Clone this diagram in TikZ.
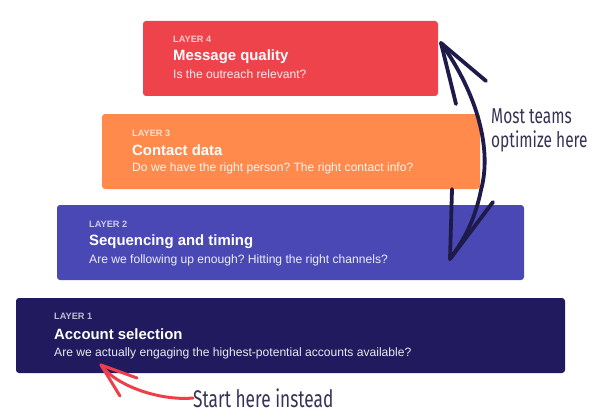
\documentclass[tikz,border=0pt]{standalone}
\usepackage{fontspec}
\setmainfont{Liberation Sans}
\newfontfamily\handfont{Fira Sans}[FakeStretch=0.72]
\usetikzlibrary{positioning}
\frenchspacing

\definecolor{layerfour}{HTML}{EF434B}
\definecolor{layerthree}{HTML}{FF8A4C}
\definecolor{layertwo}{HTML}{4A48B5}
\definecolor{layerone}{HTML}{221A5E}
\definecolor{inkblue}{HTML}{1E1A4A}
\definecolor{inkred}{HTML}{EE3F48}

\tikzset{
  layer/.style={rectangle, rounded corners=3pt, minimum height=75pt, inner sep=0pt},
  tag/.style={anchor=west, inner sep=0pt, text=white, text opacity=0.72, font=\fontsize{9.2}{10}\selectfont\bfseries},
  title/.style={anchor=west, inner sep=0pt, text=white, font=\fontsize{14.9}{16}\selectfont\bfseries},
  question/.style={anchor=west, inner sep=0pt, text=white, text opacity=0.9, font=\fontsize{12.1}{13}\selectfont},
  scribble/.style={line width=3.8pt, line cap=round, line join=round},
  hand/.style={inner sep=0pt, text=inkblue!75!gray, font=\handfont\fontsize{21.5}{24}\selectfont}
}

\begin{document}
\begin{tikzpicture}[x=1pt, y=-1pt]

  \useasboundingbox (0,0) rectangle (596,417);

  % layer 4
  \node[layer, fill=layerfour, minimum width=295pt] (l4) at (290.5,58.5) {};
  \node[tag] (l4tag) at (173,39.5) {LAYER 4};
  \node[title] (l4title) at (173,57) {Message quality};
  \node[question] (l4q) at (173,74.5) {Is the outreach relevant?};

  % layer 3
  \node[layer, fill=layerthree, minimum width=378pt] (l3) at (291,151.5) {};
  \node[tag] (l3tag) at (132,133) {LAYER 3};
  \node[title] (l3title) at (132,150.5) {Contact data};
  \node[question] (l3q) at (132,168.5) {Do we have the right person? The right contact info?};

  % layer 2
  \node[layer, fill=layertwo, minimum width=467pt] (l2) at (290.5,242.5) {};
  \node[tag] (l2tag) at (89,224) {LAYER 2};
  \node[title] (l2title) at (89,242) {Sequencing and timing};
  \node[question] (l2q) at (89,260.5) {Are we following up enough? Hitting the right channels?};

  % layer 1
  \node[layer, fill=layerone, minimum width=549pt] (l1) at (290.5,335.5) {};
  \node[tag] (l1tag) at (54,316.5) {LAYER 1};
  \node[title] (l1title) at (54,334.5) {Account selection};
  \node[question] (l1q) at (54,353) {Are we actually engaging the highest-potential accounts available?};

  % double arrow
  \coordinate (toptip) at (441,43);
  \coordinate (bottip) at (450,259);
  \draw[scribble, inkblue] (toptip) .. controls (478,95) and (492,150) .. (481,190)
    .. controls (474,225) and (460,245) .. (bottip);
  \draw[scribble, inkblue] (toptip) -- (456,104);
  \draw[scribble, inkblue] (toptip) -- (486,81);
  \draw[scribble, inkblue] (452,189) -- (bottip);
  \draw[scribble, inkblue] (493,202) -- (bottip);
  \node[hand, anchor=west, align=left] (most) at (491,130) {Most teams\\optimize here};

  % start arrow
  \node[hand, anchor=west, font=\handfont\fontsize{24}{26}\selectfont] (start) at (193,398) {Start here instead};
  \coordinate (redtip) at (101,365);
  \draw[scribble, inkred, line width=3pt] (start.west) .. controls (160,401) and (116,386) .. (redtip);
  \draw[scribble, inkred, line width=3pt] (redtip) -- (137,378);
  \draw[scribble, inkred, line width=3pt] (redtip) -- (120,396);

\end{tikzpicture}
\end{document}
